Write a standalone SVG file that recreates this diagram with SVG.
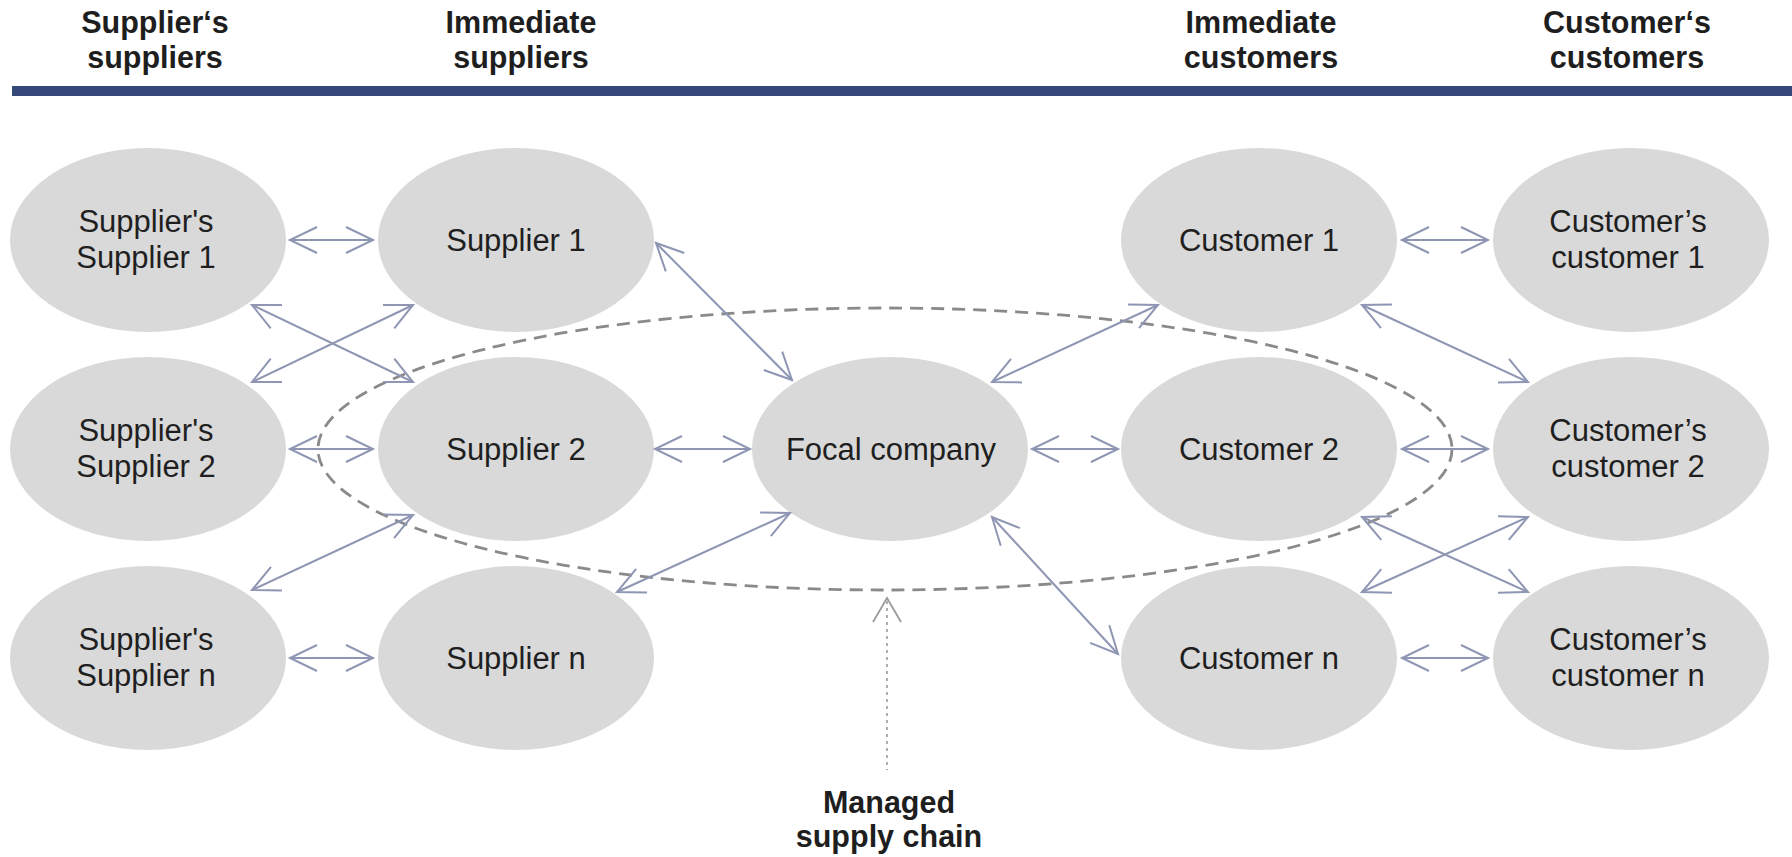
<svg xmlns="http://www.w3.org/2000/svg" width="1792" height="857" viewBox="0 0 1792 857">
  <style>
    .hdr { font-family: "Liberation Sans", Arial, sans-serif; font-weight: bold; font-size: 30.5px; fill: #1e1e1e; text-anchor: middle; }
    .node ellipse { fill: #d9d9d9; }
    .node text { font-family: "Liberation Sans", Arial, sans-serif; font-size: 31px; fill: #1f1f1f; text-anchor: middle; }
    .link { stroke: #8e96b3; stroke-width: 2; fill: none; marker-start: url(#openHead); marker-end: url(#openHead); }
    .scope { fill: none; stroke: #8a8a8a; stroke-width: 2.8; stroke-dasharray: 13 8; }
    .pointer { stroke: #9a9a9a; stroke-width: 1.6; stroke-dasharray: 3 4; fill: none; }
    .pointer-head { stroke: #9a9a9a; stroke-width: 1.8; fill: none; }
    .label { font-family: "Liberation Sans", Arial, sans-serif; font-weight: bold; font-size: 30.5px; fill: #1e1e1e; text-anchor: middle; }
  </style>
  <defs>
    <marker id="openHead" markerUnits="userSpaceOnUse" markerWidth="40" markerHeight="40" refX="0" refY="0" orient="auto-start-reverse" overflow="visible">
      <path d="M -27 -13 L 0 0 L -27 13" fill="none" stroke="#8e96b3" stroke-width="2" stroke-linejoin="miter"/>
    </marker>
  </defs>

  <rect width="1792" height="857" fill="#ffffff"/>

  <!-- column headings -->
  <g id="headings">
    <text class="hdr" x="155" y="33">Supplier‘s</text>
    <text class="hdr" x="155" y="68">suppliers</text>
    <text class="hdr" x="521" y="33">Immediate</text>
    <text class="hdr" x="521" y="68">suppliers</text>
    <text class="hdr" x="1261" y="33">Immediate</text>
    <text class="hdr" x="1261" y="68">customers</text>
    <text class="hdr" x="1627" y="33">Customer‘s</text>
    <text class="hdr" x="1627" y="68">customers</text>
    <rect x="12" y="86" width="1780" height="10" fill="#34497a"/>
  </g>

  <!-- nodes -->
  <g id="ss1" class="node">
    <ellipse cx="148" cy="240" rx="138" ry="92"/>
    <text x="146" y="232">Supplier's</text>
    <text x="146" y="268">Supplier 1</text>
  </g>
  <g id="ss2" class="node">
    <ellipse cx="148" cy="449" rx="138" ry="92"/>
    <text x="146" y="441">Supplier's</text>
    <text x="146" y="477">Supplier 2</text>
  </g>
  <g id="ssn" class="node">
    <ellipse cx="148" cy="658" rx="138" ry="92"/>
    <text x="146" y="650">Supplier's</text>
    <text x="146" y="686">Supplier n</text>
  </g>
  <g id="s1" class="node">
    <ellipse cx="516" cy="240" rx="138" ry="92"/>
    <text x="516" y="251">Supplier 1</text>
  </g>
  <g id="s2" class="node">
    <ellipse cx="516" cy="449" rx="138" ry="92"/>
    <text x="516" y="460">Supplier 2</text>
  </g>
  <g id="sn" class="node">
    <ellipse cx="516" cy="658" rx="138" ry="92"/>
    <text x="516" y="669">Supplier n</text>
  </g>
  <g id="focal" class="node">
    <ellipse cx="890" cy="449" rx="138" ry="92"/>
    <text x="891" y="460">Focal company</text>
  </g>
  <g id="c1" class="node">
    <ellipse cx="1259" cy="240" rx="138" ry="92"/>
    <text x="1259" y="251">Customer 1</text>
  </g>
  <g id="c2" class="node">
    <ellipse cx="1259" cy="449" rx="138" ry="92"/>
    <text x="1259" y="460">Customer 2</text>
  </g>
  <g id="cn" class="node">
    <ellipse cx="1259" cy="658" rx="138" ry="92"/>
    <text x="1259" y="669">Customer n</text>
  </g>
  <g id="cc1" class="node">
    <ellipse cx="1631" cy="240" rx="138" ry="92"/>
    <text x="1628" y="232">Customer’s</text>
    <text x="1628" y="268">customer 1</text>
  </g>
  <g id="cc2" class="node">
    <ellipse cx="1631" cy="449" rx="138" ry="92"/>
    <text x="1628" y="441">Customer’s</text>
    <text x="1628" y="477">customer 2</text>
  </g>
  <g id="ccn" class="node">
    <ellipse cx="1631" cy="658" rx="138" ry="92"/>
    <text x="1628" y="650">Customer’s</text>
    <text x="1628" y="686">customer n</text>
  </g>

  <!-- managed supply chain boundary -->
  <g id="managed-chain">
    <ellipse class="scope" cx="885" cy="449" rx="567" ry="141"/>
    <line class="pointer" x1="887" y1="601" x2="887" y2="770"/>
    <path class="pointer-head" d="M 873 622 L 887 598 L 901 622"/>
    <text class="label" x="889" y="813">Managed</text>
    <text class="label" x="889" y="847">supply chain</text>
  </g>

  <!-- connectors -->
  <g id="connectors">
    <line class="link" x1="290" y1="240" x2="373" y2="240"/>
    <line class="link" x1="290" y1="449" x2="373" y2="449"/>
    <line class="link" x1="290" y1="658" x2="373" y2="658"/>
    <line class="link" x1="252" y1="305" x2="413" y2="382"/>
    <line class="link" x1="252" y1="382" x2="413" y2="305"/>
    <line class="link" x1="252" y1="590" x2="413" y2="515"/>

    <line class="link" x1="656" y1="243" x2="792" y2="380"/>
    <line class="link" x1="655" y1="449" x2="750" y2="449"/>
    <line class="link" x1="617" y1="592" x2="790" y2="513"/>

    <line class="link" x1="992" y1="382" x2="1158" y2="305"/>
    <line class="link" x1="1032" y1="449" x2="1118" y2="449"/>
    <line class="link" x1="992" y1="517" x2="1118" y2="654"/>

    <line class="link" x1="1402" y1="240" x2="1488" y2="240"/>
    <line class="link" x1="1402" y1="449" x2="1488" y2="449"/>
    <line class="link" x1="1402" y1="658" x2="1488" y2="658"/>
    <line class="link" x1="1362" y1="305" x2="1528" y2="382"/>
    <line class="link" x1="1362" y1="517" x2="1528" y2="592"/>
    <line class="link" x1="1362" y1="592" x2="1528" y2="517"/>
  </g>
</svg>
